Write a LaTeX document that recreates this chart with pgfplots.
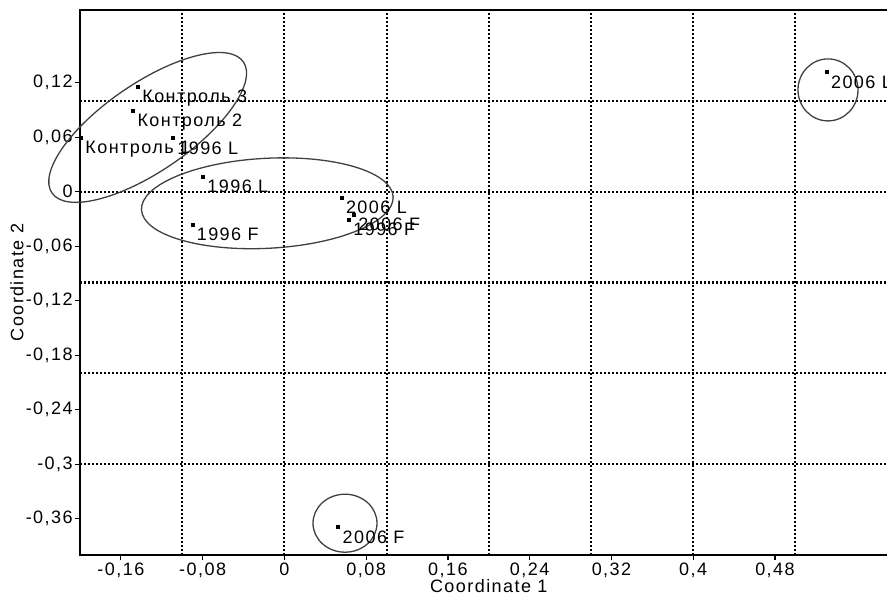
\documentclass[border=0pt]{standalone}
\usepackage{pgfplots}
\pgfplotsset{compat=1.18}
\usepackage{pgfplotstable}
\usepackage{fontspec}
\setmainfont{Liberation Sans}[LetterSpace=8]

\pgfplotstableread{
x y label
-0.1433 0.1153 {Контроль 3}
-0.1480 0.0888 {Контроль 2}
-0.1990 0.0590 {Контроль 1}
-0.1090 0.0590 {1996 L}
-0.0796 0.0162 {1996 L}
-0.0900 -0.0367 {1996 F}
0.0560 -0.0069 {2006 L}
0.0632 -0.0312 {1996 F}
0.0680 -0.0257 {2006 F}
0.5306 0.1315 {2006 L}
0.0527 -0.3695 {2006 F}
}\pts

\begin{document}
\begin{tikzpicture}
\begin{axis}[
  name=ax,
  scale only axis,
  clip=false,
  width=408.8pt, height=272.5pt,
  xmin=-0.2, xmax=0.6, ymin=-0.4, ymax=0.2,
  axis line style={line width=0.75pt},
  tick align=outside, xtick pos=bottom, ytick pos=left,
  major tick length=2.5pt,
  tick style={black, line width=0.6pt},
  xtick={-0.16,-0.08,0,0.08,0.16,0.24,0.32,0.4,0.48},
  xticklabels={{-0,16},{-0,08},{0},{0,08},{0,16},{0,24},{0,32},{0,4},{0,48}},
  ytick={-0.36,-0.3,-0.24,-0.18,-0.12,-0.06,0,0.06,0.12},
  yticklabels={{-0,36},{-0,3},{-0,24},{-0,18},{-0,12},{-0,06},{0},{0,06},{0,12}},
  tick label style={font=\fontsize{9}{10}\selectfont},
  yticklabel style={inner sep=1pt},
  xticklabel style={yshift=2.3pt},
  extra x ticks={-0.1,0,0.1,0.2,0.3,0.4,0.5},
  extra x tick labels={},
  extra y ticks={-0.3,-0.2,-0.1,0,0.1},
  extra y tick labels={},
  extra tick style={grid=major, major tick length=0pt},
  grid style={black, line width=1.05pt, dash pattern=on 1pt off 1pt},
  xlabel={Coordinate 1},
  ylabel={Coordinate 2},
  every axis x label/.style={at={(axis description cs:0.5,-0.0569)}, anchor=center, font=\fontsize{9}{10}\selectfont},
  every axis y label/.style={at={(axis description cs:-0.0771,0.5)}, rotate=90, anchor=center, font=\fontsize{9}{10}\selectfont},
]
\addplot[only marks, mark=square*, mark size=0.75pt, black,
  nodes near coords, point meta=explicit symbolic,
  nodes near coords style={anchor=north west, inner sep=0pt, xshift=2pt, yshift=-1.5pt, font=\fontsize{9}{10}\selectfont, black}]
  table[x=x, y=y, meta=label] {\pts};

\draw[line width=0.65pt, black!75, rotate around={34.4:(axis cs:-0.1338,0.0707)}]
  (axis cs:-0.1338,0.0707) ellipse [x radius=58pt, y radius=22pt];
\draw[line width=0.65pt, black!75, rotate around={3:(axis cs:-0.0167,-0.0128)}]
  (axis cs:-0.0167,-0.0128) ellipse [x radius=63pt, y radius=22.5pt];
\draw[line width=0.65pt, black!75]
  (axis cs:0.5319,0.112) ellipse [x radius=15pt, y radius=15.5pt];
\draw[line width=0.65pt, black!75]
  (axis cs:0.0593,-0.365) ellipse [x radius=16pt, y radius=14.5pt];
\end{axis}
\pgfresetboundingbox
\path ([shift={(-40pt,-20.5pt)}]ax.south west) rectangle ([shift={(403.5pt,5pt)}]ax.north west);
\end{tikzpicture}
\end{document}
